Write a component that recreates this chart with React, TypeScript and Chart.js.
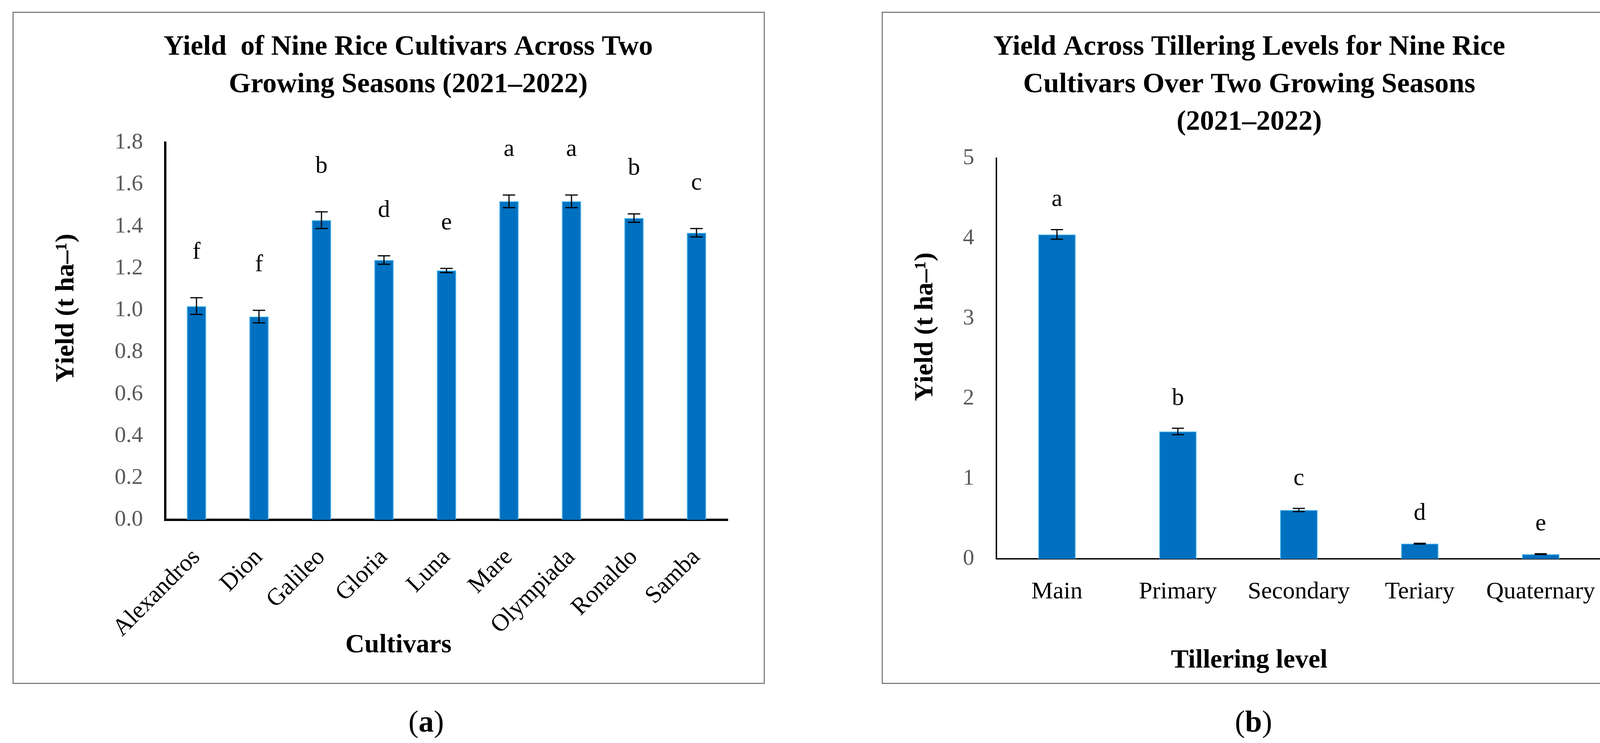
import React, { useEffect, useRef } from "react";
import { Chart, registerables } from "chart.js";

Chart.register(...registerables);

const SERIF = "'Liberation Serif', 'Times New Roman', serif";

// ---------- Panel (a) data ----------
const cultivars = ["Alexandros", "Dion", "Galileo", "Gloria", "Luna", "Mare", "Olympiada", "Ronaldo", "Samba"];
const cultivarYield = [1.02, 0.97, 1.43, 1.24, 1.19, 1.52, 1.52, 1.44, 1.37];
const cultivarError = [0.04, 0.03, 0.04, 0.02, 0.01, 0.03, 0.03, 0.02, 0.02];
const cultivarLetters = ["f", "f", "b", "d", "e", "a", "a", "b", "c"];
const cultivarTitle = ["Yield  of Nine Rice Cultivars Across Two", "Growing Seasons (2021–2022)"];
const cultivarAxisMax = 1.8;
const cultivarAxisStep = 0.2;

// ---------- Panel (b) data ----------
const tilleringLevels = ["Main", "Primary", "Secondary", "Teriary", "Quaternary"];
const tilleringYield = [4.05, 1.59, 0.61, 0.19, 0.06];
const tilleringError = [0.06, 0.04, 0.02, 0.005, 0.005];
const tilleringLetters = ["a", "b", "c", "d", "e"];
const tilleringTitle = ["Yield Across Tillering Levels for Nine Rice", "Cultivars Over Two Growing Seasons", "(2021–2022)"];
const tilleringAxisMax = 5;
const tilleringAxisStep = 1;

const yAxisTitle = "Yield (t ha–¹)";

type Extras = {
  errors: number[];
  letters: string[];
  capWidth: number;
  errLineWidth: number;
  letterGap: number;
  letterSize: number;
  xTitle: string;
  xTitlePos: [number, number];
  yTitlePos: [number, number];
  axisTitleSize: number;
};

function makeExtrasPlugin(ex: Extras) {
  return {
    id: "panelExtras",
    afterDatasetsDraw(chart: any) {
      const ctx = chart.ctx as CanvasRenderingContext2D;
      const meta = chart.getDatasetMeta(0);
      const yScale = chart.scales.y;
      const values = chart.data.datasets[0].data as number[];
      ctx.save();
      meta.data.forEach((bar: any, i: number) => {
        const v = values[i];
        const e = ex.errors[i];
        const x = bar.x;
        const yTop = yScale.getPixelForValue(v + e);
        const yBot = yScale.getPixelForValue(v - e);
        const h = ex.capWidth / 2;
        ctx.strokeStyle = "#000";
        ctx.lineWidth = ex.errLineWidth;
        ctx.beginPath();
        ctx.moveTo(x, yTop);
        ctx.lineTo(x, yBot);
        ctx.moveTo(x - h, yTop);
        ctx.lineTo(x + h, yTop);
        ctx.moveTo(x - h, yBot);
        ctx.lineTo(x + h, yBot);
        ctx.stroke();
        ctx.fillStyle = "#000";
        ctx.font = `${ex.letterSize}px ${SERIF}`;
        ctx.textAlign = "center";
        ctx.textBaseline = "alphabetic";
        ctx.fillText(ex.letters[i], x, yTop - ex.letterGap);
      });
      ctx.restore();
    },
    afterDraw(chart: any) {
      const ctx = chart.ctx as CanvasRenderingContext2D;
      ctx.save();
      ctx.fillStyle = "#000";
      ctx.font = `bold ${ex.axisTitleSize}px ${SERIF}`;
      ctx.textAlign = "center";
      ctx.textBaseline = "middle";
      ctx.fillText(ex.xTitle, ex.xTitlePos[0], ex.xTitlePos[1]);
      ctx.translate(ex.yTitlePos[0], ex.yTitlePos[1]);
      ctx.rotate(-Math.PI / 2);
      ctx.fillText(yAxisTitle, 0, 0);
      ctx.restore();
    },
  };
}

type PanelProps = {
  left: number;
  top: number;
  width: number;
  height: number;
  build: () => any;
};

function Panel({ left, top, width, height, build }: PanelProps) {
  const ref = useRef<HTMLCanvasElement | null>(null);
  const innerW = width - 6;
  const innerH = height - 6;
  useEffect(() => {
    if (!ref.current) return;
    const chart = new Chart(ref.current, build());
    return () => chart.destroy();
  }, []);
  return (
    <div
      style={{
        position: "absolute",
        left,
        top,
        width,
        height,
        boxSizing: "border-box",
        border: "3px solid #808080",
        background: "#fff",
      }}
    >
      <canvas
        ref={ref}
        width={innerW}
        height={innerH}
        style={{ position: "absolute", left: 0, top: 0, width: innerW, height: innerH }}
      />
    </div>
  );
}

function baseConfig(opts: {
  labels: string[];
  values: number[];
  title: string[];
  yMax: number;
  yStep: number;
  decimals: number;
  padding: { left: number; right: number; top: number; bottom: number };
  titlePad: { top: number; bottom: number };
  yWidth: number;
  xHeight: number;
  borderWidth: number;
  rotation: number;
  xTickPad: number;
  extras: Extras;
}) {
  return {
    type: "bar",
    data: {
      labels: opts.labels,
      datasets: [
        {
          data: opts.values,
          backgroundColor: "#0070C0",
          borderColor: "#4DB8EC",
          borderWidth: 2,
          barPercentage: 0.31,
          categoryPercentage: 1,
        },
      ],
    },
    options: {
      responsive: false,
      animation: false,
      events: [],
      layout: { padding: opts.padding },
      plugins: {
        legend: { display: false },
        tooltip: { enabled: false },
        title: {
          display: true,
          text: opts.title,
          color: "#000",
          font: { family: SERIF, size: 72, weight: "bold", lineHeight: 96 / 72 },
          padding: opts.titlePad,
        },
      },
      scales: {
        x: {
          grid: { display: false, drawTicks: false },
          border: { display: true, color: "#000", width: opts.borderWidth },
          ticks: {
            autoSkip: false,
            color: "#000",
            font: { family: SERIF, size: 62 },
            padding: opts.xTickPad,
            minRotation: opts.rotation,
            maxRotation: opts.rotation,
          },
          afterFit: (s: any) => {
            s.height = opts.xHeight;
          },
        },
        y: {
          min: 0,
          max: opts.yMax,
          grid: { display: false, drawTicks: false },
          border: { display: true, color: "#000", width: opts.borderWidth },
          ticks: {
            stepSize: opts.yStep,
            color: "#595959",
            font: { family: SERIF, size: 58 },
            padding: 57,
            callback: (v: any) => Number(v).toFixed(opts.decimals),
          },
          afterFit: (s: any) => {
            s.width = opts.yWidth;
          },
        },
      },
    },
    plugins: [makeExtrasPlugin(opts.extras)],
  };
}

const buildCultivars = () =>
  baseConfig({
    labels: cultivars,
    values: cultivarYield,
    title: cultivarTitle,
    yMax: cultivarAxisMax,
    yStep: cultivarAxisStep,
    decimals: 1,
    padding: { left: 192, right: 92, top: 0, bottom: 0 },
    titlePad: { top: 40, bottom: 100 },
    yWidth: 196,
    xHeight: 417,
    borderWidth: 6,
    rotation: 45,
    xTickPad: 60,
    extras: {
      errors: cultivarError,
      letters: cultivarLetters,
      capWidth: 32,
      errLineWidth: 3,
      letterGap: 100,
      letterSize: 62,
      xTitle: "Cultivars",
      xTitlePos: [985, 1618],
      yTitlePos: [135, 755],
      axisTitleSize: 68,
    },
  });

const buildTillering = () =>
  baseConfig({
    labels: tilleringLevels,
    values: tilleringYield,
    title: tilleringTitle,
    yMax: tilleringAxisMax,
    yStep: tilleringAxisStep,
    decimals: 0,
    padding: { left: 37, right: 78, top: 0, bottom: 0 },
    titlePad: { top: 40, bottom: 44 },
    yWidth: 254,
    xHeight: 317,
    borderWidth: 3.5,
    rotation: 0,
    xTickPad: 48,
    extras: {
      errors: tilleringError,
      letters: tilleringLetters,
      capWidth: 31,
      errLineWidth: 3,
      letterGap: 60,
      letterSize: 62,
      xTitle: "Tillering level",
      xTitlePos: [938, 1657],
      yTitlePos: [109, 803],
      axisTitleSize: 68,
    },
  });

const captionStyle: React.CSSProperties = {
  position: "absolute",
  width: 200,
  textAlign: "center",
  fontFamily: SERIF,
  fontSize: 78,
  lineHeight: "78px",
  color: "#000",
};

export default function App() {
  return (
    <div
      style={{
        position: "fixed",
        left: 0,
        top: 0,
        width: 4208,
        height: 1901,
        background: "#fff",
        overflow: "hidden",
      }}
    >
      <Panel left={32} top={30} width={1926} height={1720} build={buildCultivars} />
      <Panel left={2257} top={30} width={1923} height={1720} build={buildTillering} />
      <div style={{ ...captionStyle, left: 1091 - 100, top: 1807 }}>
        (<b>a</b>)
      </div>
      <div style={{ ...captionStyle, left: 3209 - 100, top: 1807 }}>
        (<b>b</b>)
      </div>
    </div>
  );
}
